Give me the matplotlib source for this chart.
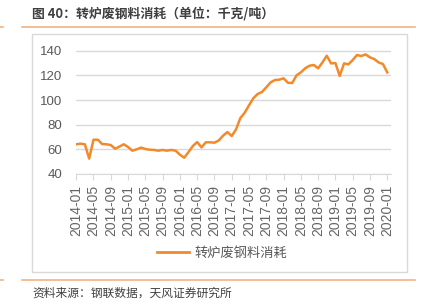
import numpy as np
import pandas as pd
import matplotlib
matplotlib.use('Agg')
import matplotlib.pyplot as plt
from matplotlib.patches import Rectangle
from matplotlib.lines import Line2D

plt.rcParams['font.family'] = ['Liberation Sans', 'Noto Sans CJK SC', 'DejaVu Sans']

# ---------------- datos ----------------
meses = pd.period_range('2014-01', '2020-01', freq='M').strftime('%Y-%m').tolist()

consumo = [
    64.1, 64.6, 64.1, 52.5, 67.8, 67.8, 64.3, 64.1, 63.5, 60.5, 62.2, 64.1,
    61.9, 58.9, 60.0, 61.4, 60.3, 59.7, 59.5, 58.9, 59.5, 58.9, 59.5, 58.9,
    55.7, 53.2, 57.8, 62.7, 65.9, 61.6, 65.7, 65.7, 65.4, 67.2, 71.1, 74.0,
    70.8, 76.2, 85.4, 89.7, 95.7, 101.4, 104.9, 106.5, 110.3, 114.3, 116.2, 116.5,
    117.6, 114.0, 113.8, 120.0, 122.4, 125.7, 127.8, 128.4, 125.7, 130.5, 135.9, 129.7,
    130.0, 119.5, 129.7, 128.9, 132.4, 136.5, 135.7, 137.0, 134.6, 133.2, 130.5, 129.2,
    122.4,
]

yticks = [40, 60, 80, 100, 120, 140]
serie = '转炉废钢料消耗'
titulo = '图 40：转炉废钢料消耗（单位：千克/吨）'
fuente = '资料来源：钢联数据，天风证券研究所'

# ---------------- figura ----------------
W, H = 427, 303
fig = plt.figure(figsize=(W / 100, H / 100), dpi=100)


def fx(px):
    return px / W


def fy(py):
    return 1 - py / H


naranja = '#F28A2B'
gris_txt = '#595959'

# titulo y lineas naranjas
fig.text(fx(32), fy(14), titulo, fontsize=9.3, color='#3F3F3F', fontweight='bold',
         family=['Noto Sans CJK SC', 'DejaVu Sans'], va='center', ha='left')
for yy in (27, 279.5):
    fig.add_artist(Line2D([fx(22), fx(415)], [fy(yy), fy(yy)], color='#F4B183', lw=1.2))
    fig.add_artist(Line2D([0, fx(3)], [fy(yy), fy(yy)], color='#F4B183', lw=1.2))

# marco gris
fig.add_artist(Rectangle((fx(32), fy(271.5)), fx(407) - fx(32), fy(34) - fy(271.5),
                         transform=fig.transFigure, fill=False, edgecolor='#D9D9D9', lw=1))

fig.text(fx(32), fy(293), fuente, fontsize=8.5, color='#404040',
         family=['Noto Sans CJK SC', 'DejaVu Sans'], va='center', ha='left')

# ---------------- ejes ----------------
x = np.arange(len(meses))
y0, y1 = 39.5, 140.5
ppu = 123.3 / 100
top_px = 50.7 - (y1 - 140) * ppu
bot_px = 174 + (40 - y0) * ppu
ax = fig.add_axes([fx(76), fy(bot_px), fx(390.7) - fx(76), (bot_px - top_px) / H])

for s in ('top', 'right', 'left'):
    ax.spines[s].set_visible(False)
ax.spines['bottom'].set_color('#D9D9D9')
ax.spines['bottom'].set_position(('data', 40))

ax.plot(x, consumo, color=naranja, lw=1.8, solid_joinstyle='round', label=serie, zorder=3)

ax.set_ylim(y0, y1)
ax.set_xlim(-0.05, 72.8)
ax.set_yticks(yticks)
ax.grid(axis='y', color='#D9D9D9', lw=1)
ax.set_axisbelow(True)

pos = x[::4]
ax.set_xticks(pos)
ax.set_xticklabels([meses[i] for i in pos])

ax.tick_params(axis='y', length=0, labelsize=9.5, labelcolor=gris_txt, pad=10)
ax.tick_params(axis='x', length=4, color='#D9D9D9', labelsize=10, labelcolor='#666666',
               pad=4, labelrotation=90)

leg = fig.legend(handles=[Line2D([], [], color=naranja, lw=2)], labels=[serie],
                 loc='center', bbox_to_anchor=(fx(222), fy(253)), frameon=False,
                 handlelength=2.4, handletextpad=0.4,
                 prop={'family': ['Noto Sans CJK SC'], 'size': 9.5})
for t in leg.get_texts():
    t.set_color(gris_txt)

fig.savefig('out.png', dpi=100)
